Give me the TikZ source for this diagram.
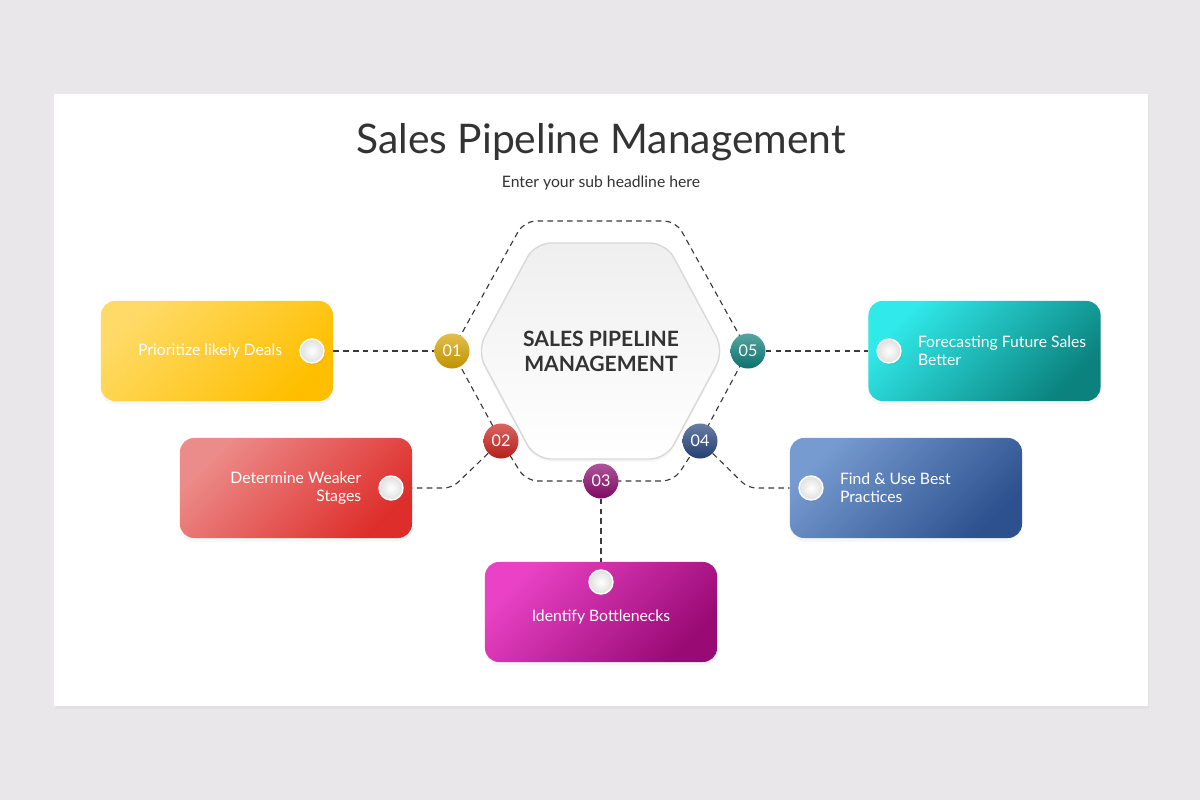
\documentclass[tikz,border=0pt]{standalone}
\usepackage{fontspec}
\setmainfont{Lato}
\usetikzlibrary{positioning,shadows}
\definecolor{pagegray}{HTML}{E9E7E9}
\definecolor{inkgray}{HTML}{333333}
\definecolor{linegray}{HTML}{3A3A3A}
\definecolor{hexedge}{HTML}{D9D9D9}
\definecolor{hextop}{HTML}{EFEFEF}
\definecolor{yellowA}{HTML}{FFDA66}
\definecolor{yellowB}{HTML}{FFBF00}
\definecolor{redA}{HTML}{EC8C8A}
\definecolor{redB}{HTML}{DE2E2B}
\definecolor{pinkA}{HTML}{E942C6}
\definecolor{pinkB}{HTML}{990A74}
\definecolor{blueA}{HTML}{769BD0}
\definecolor{blueB}{HTML}{2D518E}
\definecolor{tealA}{HTML}{30EAEA}
\definecolor{tealB}{HTML}{0B827E}
\definecolor{goldball}{HTML}{D6A200}
\definecolor{redball}{HTML}{C9231E}
\definecolor{pinkball}{HTML}{8C0B6D}
\definecolor{blueball}{HTML}{27467D}
\definecolor{tealball}{HTML}{0E7E79}
\tikzset{
    card/.style={minimum width=5.8cm, minimum height=2.5cm, rounded corners=0.35cm,
        drop shadow={opacity=0.07, shadow xshift=0pt, shadow yshift=-2.5pt}},
    knob/.style={circle, minimum size=0.6cm, inner sep=0pt, draw=white, line width=1pt,
        inner color=white, outer color=gray!25,
        drop shadow={opacity=0.15, shadow xshift=1pt, shadow yshift=-1.5pt}},
    num/.style={circle, minimum size=0.875cm, inner sep=0pt, text=white,
        font=\fontsize{11.5}{13}\selectfont},
    cardtext/.style={text=white, inner sep=0pt, font=\fontsize{11.2}{12.8}\selectfont},
    pipe/.style={dash pattern=on 4pt off 3pt, line width=0.8pt, draw=linegray}
}
\begin{document}
\begin{tikzpicture}[x=0.025cm, y=-0.025cm]
    % page
    \fill[pagegray] (0,0) rectangle (1200,800);
    \fill[white, drop shadow={opacity=0.06, shadow xshift=0.5pt, shadow yshift=-2pt}] (54,94) rectangle (1148,706);
    % headings
    \node[font=\fontsize{29}{33}\selectfont, text=inkgray] (title) at (601,142) {Sales Pipeline Management};
    \node[font=\fontsize{11.2}{13}\selectfont, text=inkgray] (sub) at (601,183) {Enter your sub headline here};
    % ring points
    \coordinate (p1) at (452,351);
    \coordinate (p2) at (501,441);
    \coordinate (p3) at (601,481);
    \coordinate (p4) at (700,441);
    \coordinate (p5) at (748,351);
    \coordinate (htl) at (524,221);
    \coordinate (htr) at (676,221);
    \coordinate (hbl) at (526,481);
    \coordinate (hbr) at (674,481);
    \coordinate (b2) at (452,488);
    \coordinate (b4) at (748,488);
    \draw[pipe, rounded corners=0.3cm] (p1) -- (htl) -- (htr) -- (p5) -- (p4) -- (hbr) -- (p3) -- (hbl) -- (p2) -- cycle;
    % centre hexagon
    \draw[hexedge, line width=1pt, rounded corners=0.4cm, top color=hextop, bottom color=white,
        drop shadow={opacity=0.07, shadow xshift=0pt, shadow yshift=-2pt}]
        (477,351) -- (535,243) -- (666,243) -- (724,351) -- (666,459) -- (535,459) -- cycle;
    \node[font=\bfseries\fontsize{15}{17.7}\selectfont, text=inkgray, align=center] (core) at (601,351) {SALES PIPELINE\\MANAGEMENT};
    % cards
    \node[card, left color=yellowA, right color=yellowB, shading angle=45] (c1) at (217,351) {};
    \node[card, left color=redA, right color=redB, shading angle=45] (c2) at (296,488) {};
    \node[card, left color=pinkA, right color=pinkB, shading angle=45] (c3) at (601,612) {};
    \node[card, left color=blueA, right color=blueB, shading angle=45] (c4) at (906,488) {};
    \node[card, left color=tealA, right color=tealB, shading angle=45] (c5) at (984.5,351) {};
    % knobs
    \node[knob] (k1) at (312,351) {};
    \node[knob] (k2) at (391,488) {};
    \node[knob] (k3) at (601,582) {};
    \node[knob] (k4) at (811,488) {};
    \node[knob] (k5) at (889,351) {};
    % card texts
    \node[cardtext, left=0.42cm of k1] (t1) {Prioritize likely Deals};
    \node[cardtext, align=right, left=0.42cm of k2] (t2) {Determine Weaker\\Stages};
    \node[cardtext, below=0.38cm of k3] (t3) {Identify Bottlenecks};
    \node[cardtext, align=left, right=0.4cm of k4] (t4) {Find \& Use Best\\Practices};
    \node[cardtext, align=left, right=0.4cm of k5] (t5) {Forecasting Future Sales\\Better};
    % numbered balls
    \node[num, top color=goldball!70!white, bottom color=goldball!90!black] (n1) at (p1) {01};
    \node[num, top color=redball!70!white, bottom color=redball!90!black] (n2) at (p2) {02};
    \node[num, top color=pinkball!70!white, bottom color=pinkball!90!black] (n3) at (p3) {03};
    \node[num, top color=blueball!70!white, bottom color=blueball!90!black] (n4) at (p4) {04};
    \node[num, top color=tealball!70!white, bottom color=tealball!90!black] (n5) at (p5) {05};
    % links
    \draw[pipe] (c1) -- (n1);
    \draw[pipe, rounded corners=0.2cm] (n2) -- (b2) -- (c2);
    \draw[pipe] (n3) -- (c3);
    \draw[pipe, rounded corners=0.2cm] (n4) -- (b4) -- (c4);
    \draw[pipe] (n5) -- (c5);
\end{tikzpicture}
\end{document}
